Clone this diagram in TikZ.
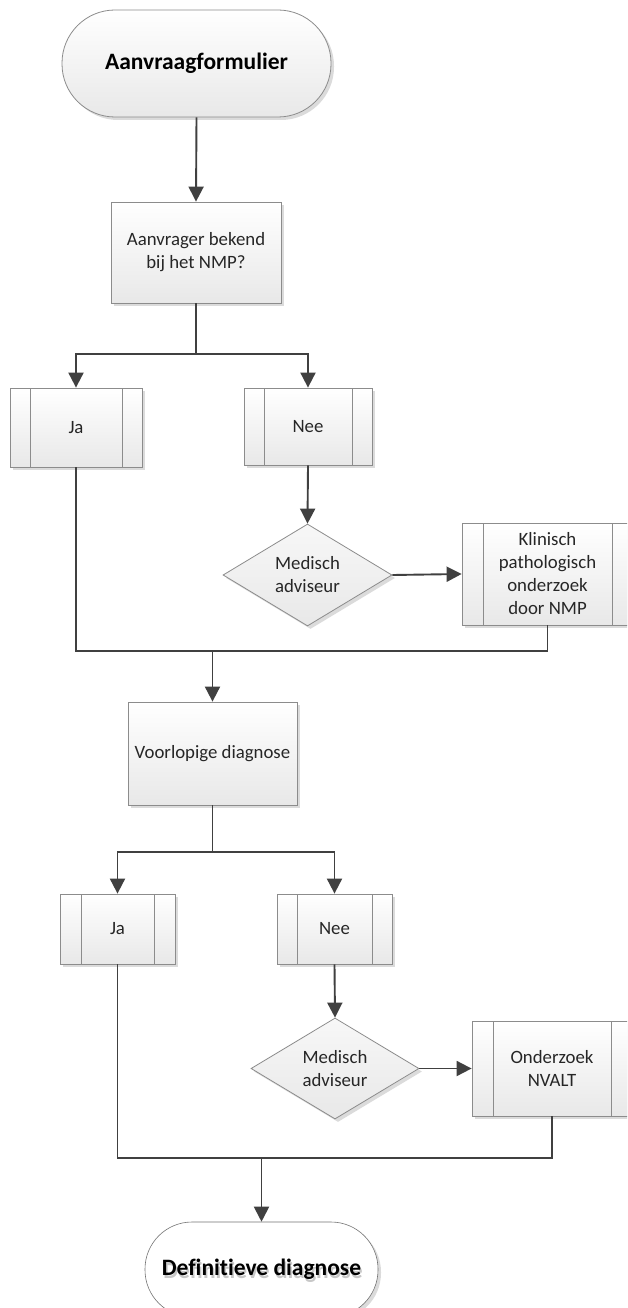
\documentclass[tikz,border=0pt]{standalone}
\usepackage{fontspec}
\setmainfont{Carlito}[Ligatures=NoCommon]
\usetikzlibrary{shapes.geometric,shadows,arrows.meta}
\definecolor{lineC}{HTML}{404040}
\definecolor{borderC}{HTML}{8C8C8C}
\tikzset{
  base/.style={draw=borderC, line width=0.8pt, inner sep=0pt, align=center,
    top color=white, bottom color=black!9,
    font=\fontsize{18.8}{23}\selectfont, text=black!85,
    drop shadow={shadow xshift=3pt, shadow yshift=-3pt, opacity=0.14, fill=black}},
  term/.style={base, rounded corners=#1, font=\fontsize{23.5}{28}\selectfont\bfseries, text=black},
  procbox/.style={base, rectangle},
  subproc/.style={base, rectangle,
    path picture={\draw[borderC, line width=0.8pt]
      ([xshift=#1]path picture bounding box.north west) -- ([xshift=#1]path picture bounding box.south west)
      ([xshift=-#1]path picture bounding box.north east) -- ([xshift=-#1]path picture bounding box.south east);}},
  subproc/.default=20pt,
  decis/.style={base, diamond, top color=black!3, bottom color=black!9},
  conn/.style={draw=lineC, line width=1.9pt},
  arr/.style={conn, -{Triangle[width=15pt,length=15pt]}},
}
\begin{document}
\begin{tikzpicture}[x=1pt,y=-1pt]
\path[clip] (0,0) rectangle (627,1308);
\fill[white] (0,0) rectangle (627,1308);

% nodes
\node[term=53pt, minimum width=269pt, minimum height=107pt] (t1) at (196.5,63.5) {Aanvraagformulier};
\node[procbox, minimum width=170pt, minimum height=101pt] (b1) at (196,252.5) {Aanvrager bekend\\bij het NMP?};
\node[subproc, minimum width=132pt, minimum height=79pt] (ja1) at (76,427.5) {Ja};
\node[subproc, minimum width=128pt, minimum height=77pt] (nee1) at (308,426.5) {Nee};
\node[decis, minimum width=169pt, minimum height=102pt] (d1) at (307.5,575) {Medisch\\adviseur};
\node[subproc=21pt, minimum width=171pt, minimum height=102pt] (k1) at (547.5,574) {Klinisch\\pathologisch\\onderzoek\\door NMP};
\node[procbox, minimum width=169pt, minimum height=103pt] (v) at (212.5,753.5) {Voorlopige diagnose};
\node[subproc=21pt, minimum width=115pt, minimum height=70pt] (ja2) at (117.5,929) {Ja};
\node[subproc, minimum width=115pt, minimum height=70pt] (nee2) at (334.5,929) {Nee};
\node[decis, minimum width=168pt, minimum height=101pt] (d2) at (335,1068.5) {Medisch\\adviseur};
\node[subproc=21pt, minimum width=160pt, minimum height=95pt] (o) at (552,1068.5) {Onderzoek\\NVALT};
\node[term=47pt, minimum width=233pt, minimum height=95pt, top color=white, bottom color=white, draw=black!55, line width=0.6pt,
  path picture={\node[text=black!22, font=\fontsize{23.5}{28}\selectfont\bfseries] at ([xshift=1.5pt,yshift=-2.5pt]path picture bounding box.center) {Definitieve diagnose};}]
  (t2) at (261.5,1269.5) {Definitieve diagnose};

% junctions
\coordinate (j1) at (196,354);
\coordinate (m1) at (212.5,651);
\coordinate (j2) at (212.5,852);
\coordinate (m2) at (261.5,1158);

% connectors
\draw[arr] (t1.south) -- (b1.north);
\draw[conn] (b1.south) -- (j1);
\draw[arr] (j1) -| (ja1.north);
\draw[arr] (j1) -| (nee1.north);
\draw[arr] (nee1.south) -- (d1.north);
\draw[arr] (d1.east) -- (k1.west);
\draw[conn] (ja1.south) |- (m1);
\draw[conn] (k1.south) |- (m1);
\draw[arr] (m1) -- (v.north);
\draw[conn] (v.south) -- (j2);
\draw[arr] (j2) -| (ja2.north);
\draw[arr] (j2) -| (nee2.north);
\draw[arr] (nee2.south) -- (d2.north);
\draw[arr] (d2.east) -- (o.west);
\draw[conn] (ja2.south) |- (m2);
\draw[conn] (o.south) |- (m2);
\draw[arr] (m2) -- (t2.north);
\end{tikzpicture}
\end{document}
